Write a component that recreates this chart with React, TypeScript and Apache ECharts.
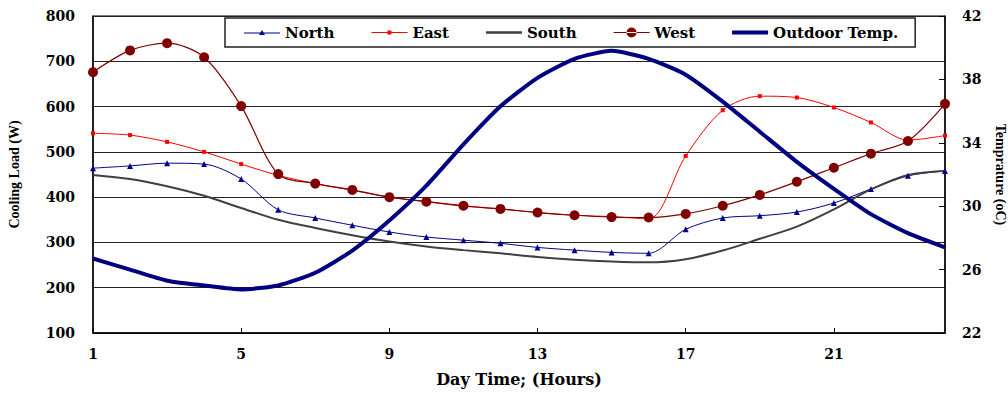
import React, { useEffect, useRef } from "react";
import * as echarts from "echarts";

const hours = ["1","2","3","4","5","6","7","8","9","10","11","12","13","14","15","16","17","18","19","20","21","22","23","24"];
const north = [464, 469, 475, 473, 440, 372, 354, 338, 323, 312, 305, 298, 289, 283, 278, 276, 329, 354, 359, 367, 387, 418, 447, 458];
const east = [541, 537, 522, 500, 473, 448, 430, 415, 400, 390, 380, 374, 366, 360, 357, 352, 491, 592, 623, 620, 598, 565, 526, 536];
const south = [449, 440, 424, 403, 376, 350, 332, 316, 302, 291, 283, 276, 268, 262, 258, 256, 263, 282, 308, 335, 373, 417, 449, 458];
const west = [676, 724, 740, 709, 601, 451, 430, 416, 400, 390, 381, 374, 366, 360, 356, 355, 363, 381, 405, 434, 465, 496, 524, 606];
const outdoor = [26.7, 26.0, 25.3, 25.0, 24.75, 25.0, 25.8, 27.2, 29.1, 31.3, 33.9, 36.3, 38.1, 39.3, 39.8, 39.3, 38.3, 36.6, 34.7, 32.8, 31.1, 29.5, 28.3, 27.4];

const FONT = "DejaVu Serif";

// legend icons (line + marker), drawn in a 36 x 10 box
const ICON_NORTH = "path://M0,4.5H36V5.5H0Z M18,2L21,7H15Z";
const ICON_EAST = "path://M0,4.5H36V5.5H0Z M16,3H20V7H16Z";
const ICON_SOUTH = "path://M0,3.8H36V6.2H0Z M0,0H0.01V0.01H0Z M0,9.99H0.01V10H0Z";
const ICON_WEST = "path://M0,4.4H36V5.6H0Z M13,5A5,5 0 1,0 23,5A5,5 0 1,0 13,5Z";
const ICON_OUT = "path://M0,3H36V7H0Z M0,0H0.01V0.01H0Z M0,9.99H0.01V10H0Z";

export default function App() {
  const ref = useRef<HTMLDivElement>(null);
  useEffect(() => {
    if (!ref.current) return;
    const chart = echarts.init(ref.current, undefined, { renderer: "svg" });
    const labelStyle = { color: "#000", fontFamily: FONT, fontWeight: "bold" as const, fontSize: 14 };
    chart.setOption({
      animation: false,
      backgroundColor: "#fff",
      grid: {
        left: 93, right: 63, top: 16, bottom: 63,
        show: true, borderColor: "#000", borderWidth: 1,
        containLabel: false, outerBoundsMode: "none",
      },
      legend: {
        left: 225,
        top: 18,
        padding: [7, 17, 7, 19],
        itemGap: 37,
        itemWidth: 36,
        itemHeight: 10,
        borderColor: "#222",
        borderWidth: 1.5,
        backgroundColor: "#fff",
        textStyle: { color: "#000", fontFamily: FONT, fontWeight: "bold", fontSize: 15 },
        data: [
          { name: "North", icon: ICON_NORTH },
          { name: "East", icon: ICON_EAST },
          { name: "South", icon: ICON_SOUTH },
          { name: "West", icon: ICON_WEST },
          { name: "Outdoor Temp.", icon: ICON_OUT },
        ],
      },
      xAxis: {
        type: "category",
        data: hours,
        boundaryGap: false,
        name: "Day Time; (Hours)",
        nameLocation: "middle",
        nameGap: 38,
        nameTextStyle: { color: "#000", fontFamily: FONT, fontWeight: "bold", fontSize: 16 },
        axisLine: { lineStyle: { color: "#000", width: 1.5 } },
        axisTick: { show: true, inside: true, length: 5, interval: 3, lineStyle: { color: "#000" } },
        axisLabel: { ...labelStyle, interval: 3, margin: 14 },
        splitLine: { show: false },
      },
      yAxis: [
        {
          type: "value",
          min: 100,
          max: 800,
          interval: 100,
          name: "Cooling Load (W)",
          nameLocation: "middle",
          nameRotate: 90,
          nameGap: 72,
          nameTextStyle: { color: "#000", fontFamily: "Liberation Serif", fontWeight: "bold", fontSize: 14 },
          axisLine: { show: true, lineStyle: { color: "#000", width: 1.5 } },
          axisTick: { show: false },
          axisLabel: { ...labelStyle, margin: 18 },
          splitLine: { show: true, lineStyle: { color: "#222", width: 1 } },
        },
        {
          type: "value",
          min: 22,
          max: 42,
          interval: 4,
          position: "right",
          name: "Temprature (oC)",
          nameLocation: "middle",
          nameRotate: -90,
          nameGap: 48,
          nameTextStyle: { color: "#000", fontFamily: "Liberation Serif", fontWeight: "bold", fontSize: 14 },
          axisLine: { show: true, lineStyle: { color: "#000", width: 1.5 } },
          axisTick: { show: true, inside: true, length: 6, lineStyle: { color: "#000" } },
          axisLabel: { ...labelStyle, margin: 17 },
          splitLine: { show: false },
        },
      ],
      series: [
        {
          name: "North",
          type: "line",
          data: north,
          smooth: 0.3,
          symbol: "triangle",
          symbolSize: 6,
          itemStyle: { color: "#00008b" },
          lineStyle: { color: "#00008b", width: 1 },
        },
        {
          name: "East",
          type: "line",
          data: east,
          smooth: 0.3,
          symbol: "rect",
          symbolSize: 4,
          itemStyle: { color: "#ff0000" },
          lineStyle: { color: "#ff0000", width: 1 },
        },
        {
          name: "South",
          type: "line",
          data: south,
          smooth: 0.3,
          symbol: "none",
          itemStyle: { color: "#404040" },
          lineStyle: { color: "#404040", width: 2 },
        },
        {
          name: "West",
          type: "line",
          data: west,
          smooth: 0.3,
          symbol: "circle",
          symbolSize: 10,
          itemStyle: { color: "#800000" },
          lineStyle: { color: "#800000", width: 1.2 },
        },
        {
          name: "Outdoor Temp.",
          type: "line",
          yAxisIndex: 1,
          data: outdoor,
          smooth: 0.2,
          symbol: "none",
          itemStyle: { color: "#000080" },
          lineStyle: { color: "#000080", width: 4 },
        },
      ],
    });
    return () => chart.dispose();
  }, []);
  return (
    <div
      ref={ref}
      style={{ position: "fixed", left: 0, top: 0, width: 1008, height: 396, background: "#fff" }}
    />
  );
}
